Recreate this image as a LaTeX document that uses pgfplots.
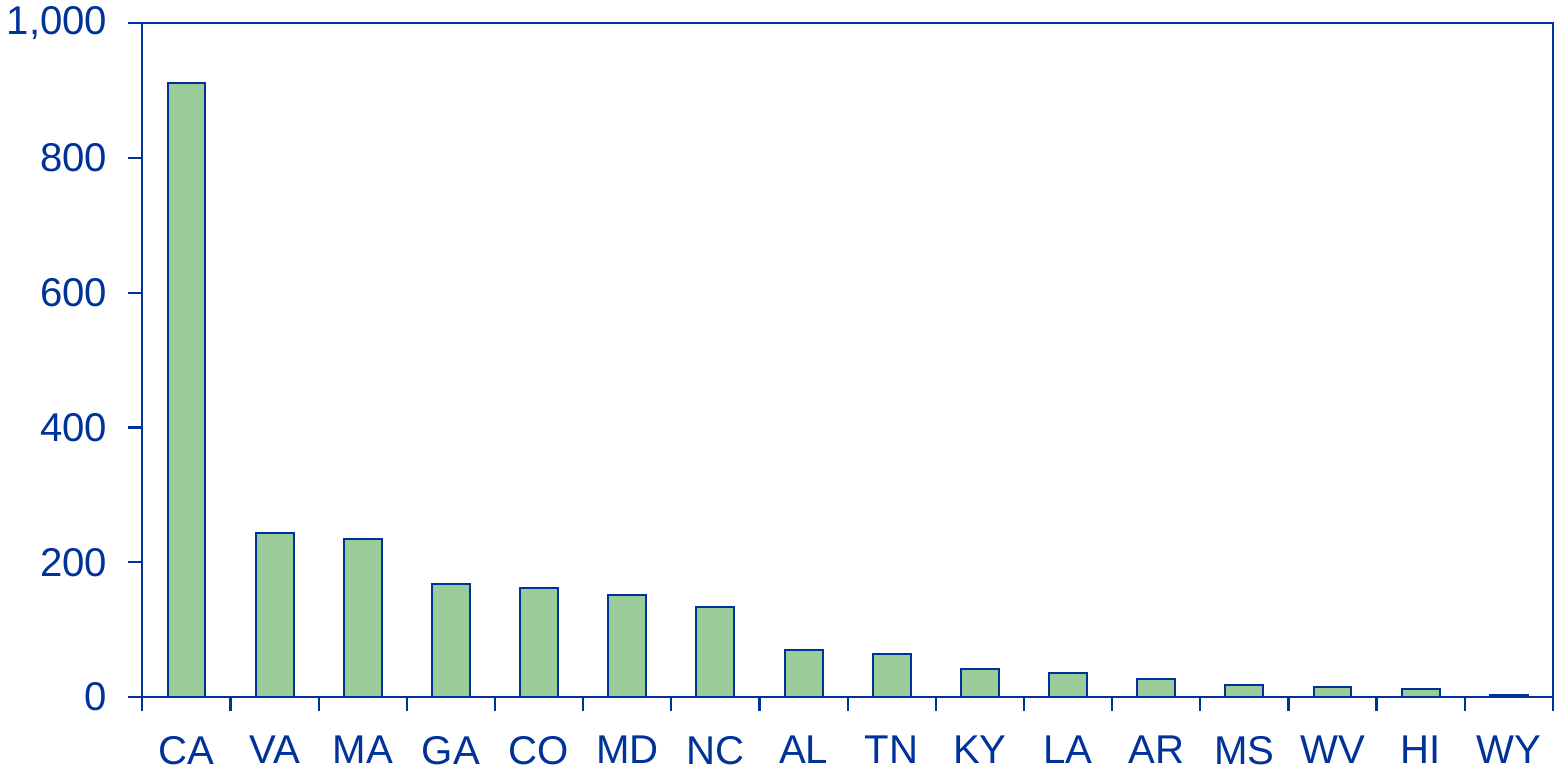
\documentclass[border=0pt]{standalone}
\usepackage{fontspec}
\setmainfont{Liberation Sans}
\usepackage{pgfplots}
\pgfplotsset{compat=1.18}
\definecolor{axblue}{RGB}{0,51,153}
\definecolor{barfill}{RGB}{153,204,153}

\begin{document}
\begin{tikzpicture}
\begin{axis}[
  scale only axis,
  width=702.5pt, height=335.5pt,
  xmin=-0.5, xmax=15.5,
  ymin=0, ymax=1000,
  ybar, bar width=0.43,
  axis line style={axblue, line width=1.1pt},
  every tick/.style={axblue, line width=1.1pt},
  tick align=outside, tick pos=left,
  major tick length=7pt,
  xtick={-0.5,0.5,...,15.5},
  x tick label as interval,
  xticklabels={CA,VA,MA,GA,CO,MD,NC,AL,TN,KY,LA,AR,MS,WV,HI,WY},
  ytick={0,200,...,1000},
  /pgf/number format/1000 sep={,},
  /pgf/number format/assume math mode=true,
  tick label style={font=\fontsize{20}{24}\selectfont, text=axblue},
  xticklabel style={yshift=-9pt},
  yticklabel style={xshift=-7pt},
]
\addplot[fill=barfill, draw=axblue, line width=1pt] coordinates {
  (0,912) (1,244) (2,235) (3,168) (4,161) (5,152) (6,134) (7,70)
  (8,63) (9,42) (10,36) (11,27) (12,18) (13,15) (14,12) (15,3)
};
\end{axis}
\end{tikzpicture}
\end{document}
